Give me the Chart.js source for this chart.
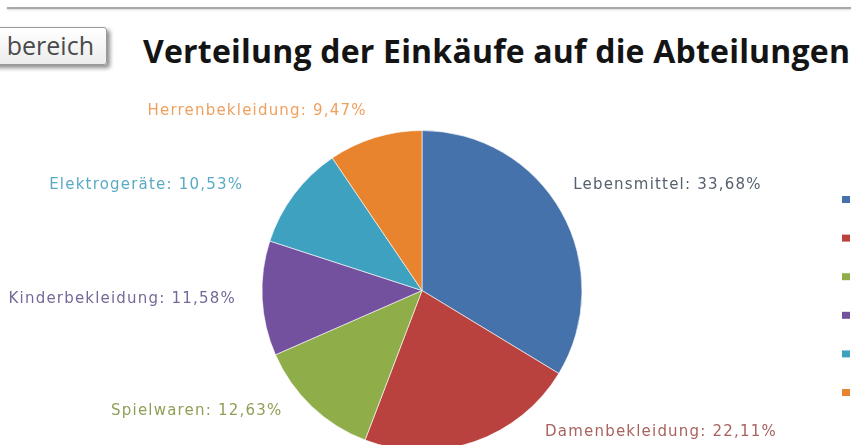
<!DOCTYPE html>
<html lang="de">
<head>
<meta charset="utf-8">
<title>Verteilung der Einkäufe auf die Abteilungen</title>
<script src="https://cdn.jsdelivr.net/npm/chart.js@4/dist/chart.umd.min.js"></script>
<style>
    html, body {
        margin: 0;
        padding: 0;
        width: 851px;
        height: 445px;
        overflow: hidden;
        background: #ffffff;
    }
    .top-line {
        position: absolute;
        left: 7px;
        top: 7px;
        width: 844px;
        height: 2px;
        background: #a8a8a8;
        box-shadow: 0 1px 2px rgba(0, 0, 0, 0.15);
    }
    .range-button {
        position: absolute;
        left: -40px;
        top: 27px;
        width: 147px;
        height: 38px;
        box-sizing: border-box;
        border: 1px solid #9a9a9a;
        border-radius: 3px;
        background: linear-gradient(#ffffff, #ececec);
        box-shadow: 3px 3px 4px rgba(0, 0, 0, 0.45);
        font-family: 'Open Sans', sans-serif;
        font-size: 25px;
        line-height: 35px;
        color: #4a4a4a;
        text-align: right;
        padding-right: 12px;
    }
    .chart-title {
        position: absolute;
        left: 143px;
        top: 29px;
        white-space: nowrap;
        font-family: 'Open Sans', sans-serif;
        font-weight: bold;
        font-size: 32px;
        letter-spacing: 0.2px;
        color: #141414;
    }
    .chart-box {
        position: absolute;
        left: 0;
        top: 0;
        width: 851px;
        height: 480px;
    }
</style>
</head>
<body>
<div class="top-line"></div>
<div class="range-button">bereich</div>
<div class="chart-title">Verteilung der Einkäufe auf die Abteilungen</div>
<div class="chart-box"><canvas id="einkaeufe"></canvas></div>

<script>
// Anteile der Abteilungen an den Einkäufen (Prozent)
const abteilungen = ['Lebensmittel', 'Damenbekleidung', 'Spielwaren', 'Kinderbekleidung', 'Elektrogeräte', 'Herrenbekleidung']
const anteile = [33.68, 22.11, 12.63, 11.58, 10.53, 9.47]

const sliceColors = ['#4672ab', '#b9423f', '#8fae4a', '#74519e', '#3fa1c0', '#e8842e']
const labelColors = ['#56606e', '#a8625f', '#8f9f58', '#76699a', '#5aaac4', '#efa05e']

// Verschiebung der Beschriftung vom Außenrand des Segments (px)
const labelOffsets = [[106, -27], [187, -10], [-115, 5], [-140, 1], [-148, -9], [-118, -26]]

function formatProzent(value) {
    return value.toFixed(2).replace('.', ',') + '%'
}

const labelPlugin = {
    id: 'pieLabels',
    afterDatasetsDraw(chart) {
        const ctx = chart.ctx
        const meta = chart.getDatasetMeta(0)
        ctx.save()
        ctx.font = '15px "DejaVu Sans"'
        ctx.letterSpacing = '1.2px'
        ctx.textAlign = 'center'
        ctx.textBaseline = 'middle'
        meta.data.forEach((arc, i) => {
            const props = arc.getProps(['x', 'y', 'startAngle', 'endAngle', 'outerRadius'], true)
            const mid = (props.startAngle + props.endAngle) / 2
            const px = props.x + Math.cos(mid) * props.outerRadius + labelOffsets[i][0]
            const py = props.y + Math.sin(mid) * props.outerRadius + labelOffsets[i][1]
            ctx.fillStyle = labelColors[i]
            ctx.fillText(abteilungen[i] + ': ' + formatProzent(anteile[i]), px, py)
        })
        ctx.restore()
    }
}

// Legendenkästchen am rechten Rand
const legendPlugin = {
    id: 'sideLegend',
    afterDraw(chart) {
        const ctx = chart.ctx
        ctx.save()
        abteilungen.forEach((name, i) => {
            ctx.fillStyle = sliceColors[i]
            ctx.fillRect(842, 196 + i * 38.6, 8, 7)
        })
        ctx.restore()
    }
}

const ctx = document.getElementById('einkaeufe').getContext('2d')
const chart = new Chart(ctx, {
    type: 'pie',
    data: {
        labels: abteilungen,
        datasets: [{
            data: anteile,
            backgroundColor: sliceColors,
            borderColor: 'rgba(255, 255, 255, 0.6)',
            borderWidth: 1
        }]
    },
    options: {
        responsive: true,
        maintainAspectRatio: false,
        animation: false,
        layout: {
            padding: { left: 261, right: 268, top: 130, bottom: 29 }
        },
        plugins: {
            legend: { display: false },
            tooltip: { enabled: false }
        }
    },
    plugins: [labelPlugin, legendPlugin]
})
</script>
</body>
</html>
